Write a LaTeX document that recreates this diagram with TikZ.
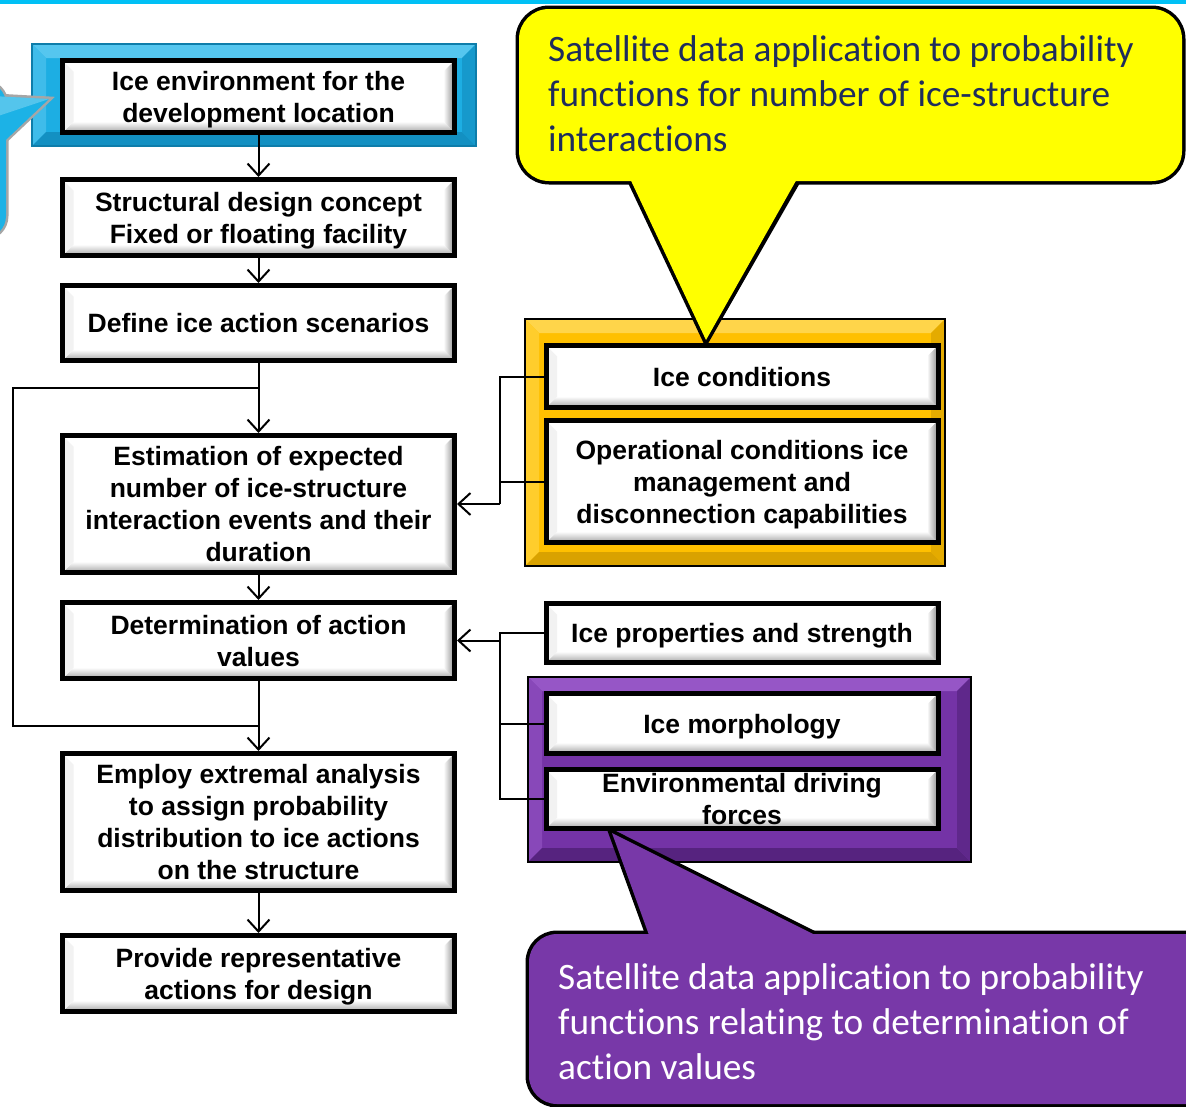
\documentclass[tikz,border=0pt]{standalone}
\usepackage{fontspec}
\setmainfont{Liberation Sans}
\newfontfamily\carlitofam{Carlito}[Ligatures={NoCommon}]
\usetikzlibrary{arrows.meta,calc}
\definecolor{topcyan}{HTML}{00C0F5}
\definecolor{bfbase}{HTML}{1DAEE3}
\definecolor{bflight}{HTML}{55C6EF}
\definecolor{bfdark}{HTML}{1390C2}
\definecolor{bfedge}{HTML}{0E7DAA}
\definecolor{yfbase}{HTML}{FFC000}
\definecolor{yflight}{HTML}{FFD54A}
\definecolor{yfdark}{HTML}{D9A200}
\definecolor{yfedge}{HTML}{000000}
\definecolor{pfbase}{HTML}{7433A6}
\definecolor{pflight}{HTML}{9656C6}
\definecolor{pfdark}{HTML}{56237F}
\definecolor{pfedge}{HTML}{000000}
\definecolor{calyellow}{HTML}{FFFF00}
\definecolor{calpurple}{HTML}{7838A8}
\definecolor{navytext}{HTML}{1F2D5C}
\definecolor{calblue}{HTML}{1CB2E6}
\newcommand\myboxfont{\bfseries\fontsize{26.5}{32}\selectfont}
\newcommand\mycalfont{\carlitofam\fontsize{37.3}{45}\selectfont}
\newcommand\bevframe[5]{%
  \fill[#5base] (#1,#2) rectangle (#3,#4);
  \fill[#5light] (#1,#2) -- (#3,#2) -- (#3-14,#2+14) -- (#1+14,#2+14) -- cycle;
  \fill[#5light!60!#5base] (#1,#2) -- (#1+14,#2+14) -- (#1+14,#4-14) -- (#1,#4) -- cycle;
  \fill[#5dark] (#1,#4) -- (#3,#4) -- (#3-14,#4-14) -- (#1+14,#4-14) -- cycle;
  \fill[#5dark!70!#5base] (#3,#2) -- (#3,#4) -- (#3-14,#4-14) -- (#3-14,#2+14) -- cycle;
  \draw[#5edge, line width=2.5pt] (#1,#2) rectangle (#3,#4);
}
\tikzset{
  box/.style={draw=black, line width=5pt, fill=white, minimum width=392pt,
    inner sep=0pt, align=center, font=\myboxfont, text depth=0pt,
    path picture={
      \coordinate (pa) at (path picture bounding box.south west);
      \coordinate (pb) at (path picture bounding box.south east);
      \coordinate (pc) at (path picture bounding box.north east);
      \coordinate (pd) at (path picture bounding box.north west);
      \shade[top color=white, bottom color=black!35] (pa) -- (pb) -- ($(pb)+(-11pt,11pt)$) -- ($(pa)+(11pt,11pt)$) -- cycle;
      \shade[left color=white, right color=black!45] (pb) -- (pc) -- ($(pc)+(-11pt,-11pt)$) -- ($(pb)+(-11pt,11pt)$) -- cycle;
      \fill[black!5] (pa) -- (pd) -- ($(pd)+(11pt,-11pt)$) -- ($(pa)+(11pt,11pt)$) -- cycle;
    }},
  ln/.style={line width=2pt, black},
  arr/.style={line width=2pt, black, -{Straight Barb[length=12pt,width=22pt]}},
  caltext/.style={anchor=west, align=left, font=\mycalfont, inner sep=0pt},
}
\begin{document}
\begin{tikzpicture}[x=1pt, y=-1pt]
\path[use as bounding box] (0,0) rectangle (1186,1106);
\clip (0,0) rectangle (1186,1106);
\fill[white] (0,0) rectangle (1186,1106);
\fill[topcyan] (0,0) rectangle (1186,3.5);

% frames
\bevframe{32}{44}{476}{146}{bf}
\bevframe{525}{319}{945}{566}{yf}
\bevframe{528}{677}{971}{862}{pf}

% blue callout (partly off the picture)
\draw[line width=5pt, black!35] (-5,96) -- (49,99) -- (-5,150);
\draw[line width=5pt, black!35, rounded corners=22pt] (-100,82) rectangle (6,238);
\fill[calblue, rounded corners=22pt] (-100,82) rectangle (6,238);
\fill[calblue] (-8,96) -- (49,99) -- (-8,153) -- cycle;
\fill[white, opacity=0.25] (-8,96) -- (49,99) -- (-8,118) -- cycle;

% yellow callout
\draw[line width=7pt, black] (631,181) -- (706,340) -- (797,181);
\draw[line width=7pt, black, rounded corners=30pt] (519,9) rectangle (1182,181);
\fill[calyellow, rounded corners=30pt] (519,9) rectangle (1182,181);
\fill[calyellow] (626,170) -- (706,340) -- (802,170) -- cycle;
\node[caltext, text=navytext] (ytext) at (548,94) {Satellite data application to probability\\functions for number of ice-structure\\interactions};

% purple callout
\draw[line width=7pt, black] (649,935) -- (612,833) -- (815,935);
\draw[line width=7pt, black, rounded corners=28pt] (529,934) rectangle (1240,1104);
\fill[calpurple, rounded corners=28pt] (529,934) rectangle (1240,1104);
\fill[calpurple] (652.6,945) -- (612,833) -- (835,945) -- cycle;
\node[caltext, text=white] (ptext) at (558,1022) {Satellite data application to probability\\functions relating to determination of\\action values};

% left column
\node[box, minimum height=72pt] (env) at (258.5,96.5) {Ice environment for the\\development location};
\node[box, minimum height=76pt] (concept) at (258.5,217.5) {Structural design concept\\Fixed or floating facility};
\node[box, minimum height=75pt] (scen) at (258.5,323) {Define ice action scenarios};
\node[box, minimum height=137pt] (est) at (258.5,504) {Estimation of expected\\number of ice-structure\\interaction events and their\\duration};
\node[box, minimum height=76pt] (det) at (258.5,640.5) {Determination of action\\values};
\node[box, minimum height=137pt] (extr) at (258.5,822) {Employ extremal analysis\\to assign probability\\distribution to ice actions\\on the structure};
\node[box, minimum height=76pt] (repr) at (258.5,973.5) {Provide representative\\actions for design};

% right column
\node[box, minimum height=62pt] (icecond) at (742,376.5) {Ice conditions};
\node[box, minimum height=122pt] (opcond) at (742,481.5) {Operational conditions ice\\management and\\disconnection capabilities};
\node[box, minimum height=59pt] (props) at (742,633) {Ice properties and strength};
\node[box, minimum height=60pt] (morph) at (742,723.5) {Ice morphology};
\node[box, minimum height=59pt] (envf) at (742,799) {Environmental driving\\forces};

% main flow
\draw[arr] (env.south) -- (concept.north);
\draw[arr] (concept.south) -- (scen.north);
\draw[arr] (scen.south) -- (est.north);
\draw[arr] (est.south) -- (det.north);
\draw[arr] (det.south) -- (extr.north);
\draw[arr] (extr.south) -- (repr.north);

% loop on the left
\coordinate (j1) at (258.5,388);
\coordinate (j2) at (258.5,726);
\coordinate (c1) at (13,388);
\coordinate (c2) at (13,726);
\draw[ln] (j1) -- (c1) -- (c2) -- (j2);

% right connectors, upper group
\coordinate (b1) at (500,504);
\draw[ln] (icecond.west) -| (b1);
\draw[ln] (opcond.west) -- (opcond.west -| b1);
\draw[arr] (b1) -- (est.east);

% right connectors, lower group
\coordinate (b2) at (500,640.5);
\coordinate (b3) at (500,799);
\draw[ln] (props.west) -- (props.west -| b2) -- (b3) -- (envf.west);
\draw[ln] (morph.west) -- (morph.west -| b2);
\draw[arr] (b2) -- (det.east);
\end{tikzpicture}
\end{document}
